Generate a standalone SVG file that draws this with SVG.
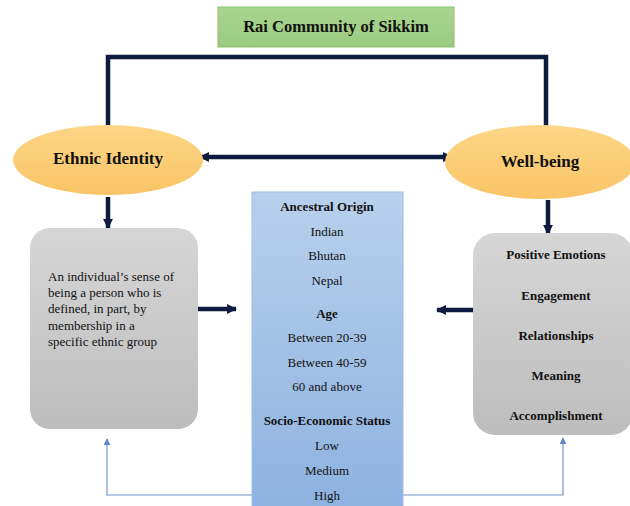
<svg xmlns="http://www.w3.org/2000/svg" width="630" height="506" viewBox="0 0 630 506" font-family="'Liberation Serif', 'DejaVu Serif', 'Times New Roman', serif">
<defs>
<linearGradient id="gGray" x1="0" y1="0" x2="0" y2="1"><stop offset="0" stop-color="#d6d6d6"/><stop offset="1" stop-color="#bdbdbd"/></linearGradient>
<linearGradient id="gBlue" x1="0" y1="0" x2="0" y2="1"><stop offset="0" stop-color="#b8d0ec"/><stop offset="1" stop-color="#8db2e0"/></linearGradient>
<linearGradient id="gGreen" x1="0" y1="0" x2="0" y2="1"><stop offset="0" stop-color="#a9d58f"/><stop offset="1" stop-color="#9acb7f"/></linearGradient>
<linearGradient id="gOrange" x1="0" y1="0" x2="0" y2="1"><stop offset="0" stop-color="#fdd687"/><stop offset="1" stop-color="#f9c466"/></linearGradient>
<marker id="hd" viewBox="0 0 10 10" refX="9" refY="5" markerWidth="2.2" markerHeight="2.4" orient="auto-start-reverse" markerUnits="strokeWidth"><path d="M0,0 L10,5 L0,10 Z" fill="#0d1b3e"/></marker>
<marker id="hb" viewBox="0 0 10 10" refX="9" refY="5" markerWidth="7" markerHeight="7" orient="auto" markerUnits="userSpaceOnUse"><path d="M0,0 L10,5 L0,10 Z" fill="#5b86c6"/></marker>
<style>
text{font-family:'Liberation Serif','DejaVu Serif','Times New Roman',serif}
.t{fill:#111;font-size:13px}
.b{font-weight:bold}
.c{text-anchor:middle}
.thick{fill:none;stroke:#0d1b3e;stroke-width:4.5}
.thin{fill:none;stroke:#6f96cf;stroke-width:1.2}
</style>
</defs>
<g id="connectors">
<path class="thick" d="M108,144 V57 H546 V138" marker-end="url(#hd)" stroke-linejoin="miter"/>
<line class="thick" x1="200" y1="157" x2="452" y2="157" marker-start="url(#hd)" marker-end="url(#hd)"/>
<line class="thick" x1="108" y1="197" x2="108" y2="228" marker-end="url(#hd)"/>
<line class="thick" x1="548" y1="200" x2="548" y2="234" marker-end="url(#hd)"/>
<line class="thick" x1="198" y1="309" x2="236" y2="309" marker-end="url(#hd)"/>
<line class="thick" x1="473" y1="310" x2="437" y2="310" marker-end="url(#hd)"/>
<path class="thin" d="M252,495 H107 V439" marker-end="url(#hb)"/>
<path class="thin" d="M403,495 H563 V438" marker-end="url(#hb)"/>
</g>
<g id="title">
<rect x="218" y="7" width="236" height="40" fill="url(#gGreen)" stroke="#8cc06e" stroke-width="1"/>
<text class="t b c" x="336" y="32" style="font-size:16.5px">Rai Community of Sikkim</text>
</g>
<g id="ethnic-identity">
<ellipse cx="108" cy="160" rx="95" ry="35" fill="url(#gOrange)"/>
<text class="t b c" x="108" y="164" style="font-size:17px">Ethnic Identity</text>
</g>
<g id="well-being">
<ellipse cx="540" cy="162" rx="95" ry="37" fill="url(#gOrange)"/>
<text class="t b c" x="540" y="167" style="font-size:17px">Well-being</text>
</g>
<g id="definition">
<rect x="30" y="228" width="168" height="201" rx="20" fill="url(#gGray)"/>
<text class="t" x="48" y="281">An individual’s sense of</text>
<text class="t" x="48" y="297">being a person who is</text>
<text class="t" x="48" y="313">defined, in part, by</text>
<text class="t" x="48" y="330">membership in a</text>
<text class="t" x="48" y="346">specific ethnic group</text>
</g>
<g id="demographics">
<rect x="252" y="192" width="151" height="320" fill="url(#gBlue)" stroke="#9dbde3" stroke-width="1"/>
<text class="t b c" x="327" y="211">Ancestral Origin</text>
<text class="t c" x="327" y="236">Indian</text>
<text class="t c" x="327" y="260">Bhutan</text>
<text class="t c" x="327" y="285">Nepal</text>
<text class="t b c" x="327" y="318">Age</text>
<text class="t c" x="327" y="342">Between 20-39</text>
<text class="t c" x="327" y="367">Between 40-59</text>
<text class="t c" x="327" y="391">60 and above</text>
<text class="t b c" x="327" y="425">Socio-Economic Status</text>
<text class="t c" x="327" y="450">Low</text>
<text class="t c" x="327" y="475">Medium</text>
<text class="t c" x="327" y="500">High</text>
</g>
<g id="perma">
<rect x="473" y="233" width="160" height="202" rx="22" fill="url(#gGray)"/>
<text class="t b c" x="556" y="259">Positive Emotions</text>
<text class="t b c" x="556" y="300">Engagement</text>
<text class="t b c" x="556" y="340">Relationships</text>
<text class="t b c" x="556" y="380">Meaning</text>
<text class="t b c" x="556" y="420">Accomplishment</text>
</g>
</svg>
